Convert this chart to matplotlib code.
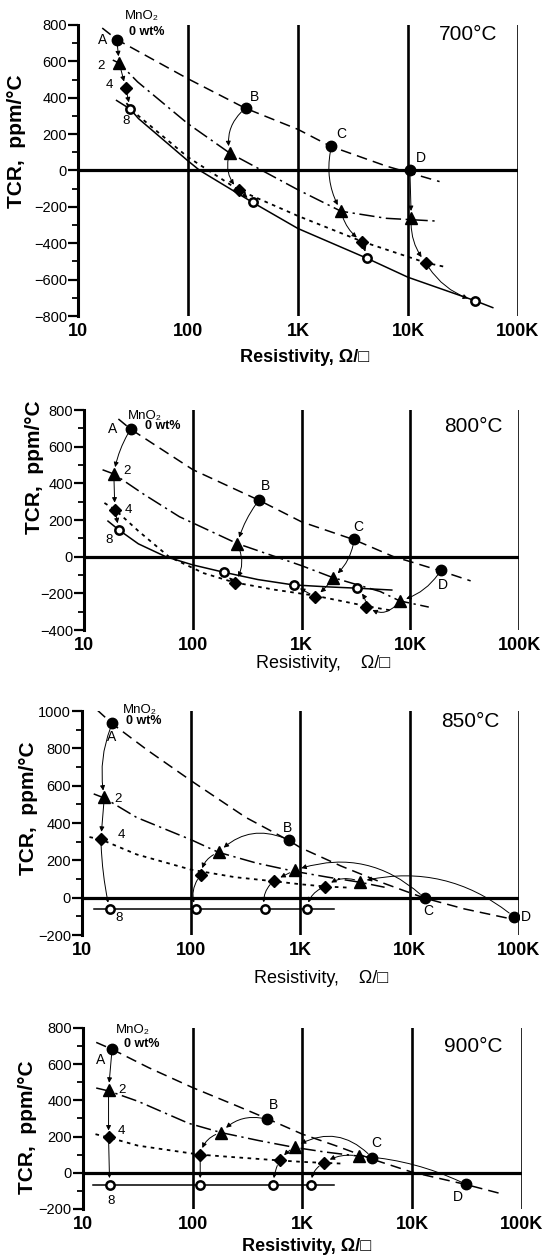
import matplotlib
matplotlib.use("Agg")
import matplotlib.pyplot as plt
from matplotlib.ticker import MultipleLocator, NullLocator

plt.rcParams["font.family"] = ["Liberation Sans", "DejaVu Sans"]

XTICKS = [10, 100, 1000, 10000, 100000]
XTICK_LABELS = ["10", "100", "1K", "10K", "100K"]
LETTERS = ["A", "B", "C", "D"]
WT = ["0", "2", "4", "8"]  # MnO2 wt%

# ---- measured points: rows = 0, 2, 4, 8 wt% MnO2 ; columns = resistor A..D
r700 = [[22.5, 334, 2015, 10400], [23.7, 239, 2460, 10700],
        [27.2, 288, 3850, 14500], [29.9, 388, 4250, 40300]]
t700 = [[720, 343, 132, 4], [590, 96, -224, -261],
        [452, -107, -391, -507], [337, -176, -483, -715]]

r800 = [[26.8, 408, 3045, 19200], [18.8, 256, 1930, 7960],
        [19.2, 242, 1330, 3950], [21.0, 195, 850, 3270]]
t800 = [[695, 310, 96, -72], [451, 68, -116, -241],
        [257, -143, -218, -272], [145, -86, -155, -173]]

r850 = [[19.0, 785, 13650, 89300], [16.0, 178, 885, 3500],
        [14.9, 122, 574, 1690], [17.9, 111, 470, 1140]]
t850 = [[935, 308, -2, -101], [537, 243, 147, 86],
        [316, 122, 92, 60], [-63, -62, -62, -62]]

r900 = [[18.4, 477, 4300, 30900], [17.1, 181, 850, 3250],
        [17.1, 117, 618, 1560], [17.5, 117, 540, 1200]]
t900 = [[682, 295, 84, -64], [459, 222, 142, 92],
        [195, 100, 68, 54], [-68, -68, -68, -68]]

# ---- fitted curves (0, 2, 4, 8 wt%)
c700_r = [[16.6, 22.5, 98.6, 330, 998, 1977, 6353, 19360],
          [20.7, 23.7, 34.8, 98.9, 239, 998, 2460, 6350, 17990],
          [27.5, 35.5, 98.9, 288, 1000, 3846, 14520, 22900],
          [22.4, 29.9, 35.5, 98.9, 128, 388, 998, 4246, 10000, 40270, 59020]]
c700_t = [[783, 720, 506, 343, 226, 133, 24, -61],
          [607, 590, 487, 259, 96, -106, -224, -263, -278],
          [370, 300, 75, -107, -250, -391, -507, -533],
          [385, 337, 285, 55, 0, -176, -319, -483, -587, -715, -754]]

c800_r = [[20.7, 26.9, 100.5, 412, 1000, 3055, 7015, 10000, 19100, 35890],
          [14.8, 18.8, 35.5, 75.3, 255, 1000, 1919, 5284, 7980, 14790],
          [15.4, 19.2, 31.6, 60.3, 126, 239, 562, 1309, 3981, 6457],
          [16.6, 21.0, 31.6, 56.4, 100, 193, 398, 838, 1778, 3266, 6761]]
c800_t = [[751, 695, 474, 306, 190, 92, 0, -27, -78, -132],
          [474, 451, 340, 218, 72, -49, -113, -190, -241, -275],
          [293, 257, 140, 0, -90, -140, -180, -212, -270, -292],
          [194, 145, 70, 0, -45, -85, -125, -154, -165, -172, -182]]

c850_r = [[13.8, 19.0, 39.8, 100, 316, 785, 1000, 2344, 5623, 13650, 31620, 79430],
          [12.8, 16.0, 31.6, 100, 178, 398, 885, 1778, 3491, 5888],
          [11.7, 14.9, 31.6, 100, 251, 575, 1000, 1690, 2754],
          [12.8, 2037]]
c850_t = [[1005, 931, 790, 626, 430, 306, 268, 170, 80, -2, -60, -110],
          [556, 534, 430, 310, 243, 185, 141, 110, 83, 56],
          [325, 312, 232, 150, 110, 88, 72, 60, 54],
          [-62, -62]]

c900_r = [[13.2, 18.4, 39.8, 100, 251, 476, 1000, 1995, 4315, 10000, 30900, 63970],
          [13.2, 17.1, 31.6, 91.8, 181, 398, 847, 1585, 3236, 3631],
          [13.0, 17.1, 31.6, 91.8, 117, 251, 617, 1000, 1542, 2427],
          [12.4, 1932]]
c900_t = [[720, 682, 580, 470, 370, 299, 213, 150, 75, 3, -65, -115],
          [468, 452, 395, 273, 222, 178, 140, 115, 92, 88],
          [213, 195, 150, 109, 100, 85, 68, 60, 55, 50],
          [-68, -68]]

LINE_STYLES = [dict(ls=(0, (7, 4)), lw=1.1),
               dict(ls=(0, (10, 3, 1.5, 3)), lw=1.1),
               dict(ls=(0, (2, 2.5)), lw=1.3),
               dict(ls="-", lw=1.1)]
MARKERS = [dict(marker="o", ms=7.5, mfc="black", mec="black"),
           dict(marker="^", ms=8, mfc="black", mec="black"),
           dict(marker="D", ms=6, mfc="black", mec="black"),
           dict(marker="o", ms=6, mfc="white", mec="black", mew=1.8)]

PANELS = [
    dict(temp="700°C", pts=(r700, t700), cur=(c700_r, c700_t),
         rect=[0.1416, 0.7492, 0.7985, 0.2310], ylim=(-800, 800),
         temp_xy=(0.886, 0.966), ylab_xy=(-0.118, 0.60), xlab_xy=(0.516, -0.115),
         xlab="Resistivity, Ω/□", xlab_w="bold",
         rads=[[0, 0.3, 0.2, 0], [0, 0.3, 0.2, 0.2], [0, 0, 0, 0.2]],
         let_off=[(-14, 0), (9, 11), (10, 12), (11, 12)],
         wt_off=[(-18, -3), (-16, 3), (-4, -12)],
         mno_off=(25, 24), owt_off=(30, 8)),
    dict(temp="800°C", pts=(r800, t800), cur=(c800_r, c800_t),
         rect=[0.1525, 0.5, 0.7895, 0.1746], ylim=(-400, 800),
         temp_xy=(0.894, 0.923), ylab_xy=(-0.092, 0.74), xlab_xy=(0.55, -0.112),
         xlab="Resistivity,    Ω/□", xlab_w="medium",
         rads=[[0.1, 0.1, -0.2, -0.2], [0, -0.3, -0.1, -0.5], [0, 0, 0, 0.2]],
         let_off=[(-18, 0), (6, 14), (4, 12), (2, -15)],
         wt_off=[(13, 3), (14, 0), (-10, -10)],
         mno_off=(14, 13), owt_off=(32, 3)),
    dict(temp="850°C", pts=(r850, t850), cur=(c850_r, c850_t),
         rect=[0.1488, 0.2579, 0.7931, 0.1778], ylim=(-200, 1000),
         temp_xy=(0.888, 0.951), ylab_xy=(-0.100, 0.567), xlab_xy=(0.547, -0.155),
         xlab="Resistivity,    Ω/□", xlab_w="medium",
         rads=[[0.15, 0.35, 0.3, 0.25], [0, 0.3, 0, 0.3], [0.05, 0.3, 0.3, 0.3]],
         let_off=[(-1, -14), (-2, 12), (4, -13), (12, 0)],
         wt_off=[(14, -2), (20, 4), (9, -9)],
         mno_off=(27, 13), owt_off=(31, 2)),
    dict(temp="900°C", pts=(r900, t900), cur=(c900_r, c900_t),
         rect=[0.1506, 0.0405, 0.7967, 0.1437], ylim=(-200, 800),
         temp_xy=(0.888, 0.895), ylab_xy=(-0.105, 0.453), xlab_xy=(0.51, -0.16),
         xlab="Resistivity, Ω/□", xlab_w="bold",
         rads=[[0, 0.3, 0.4, 0.1], [0, 0.3, 0.1, 0.2], [0, 0, 0.1, 0.3]],
         let_off=[(-11, -11), (6, 14), (4, 15), (-8, -13)],
         wt_off=[(13, 0), (13, 6), (1, -16)],
         mno_off=(21, 19), owt_off=(30, 5)),
]


def draw_panel(ax, p):
    R, T = p["pts"]
    CR, CT = p["cur"]
    ax.set_xscale("log")
    ax.set_xlim(10, 1e5)
    ax.set_ylim(*p["ylim"])
    for side in ("top", "right", "bottom"):
        ax.spines[side].set_visible(False)
    ax.spines["left"].set_linewidth(2.2)

    for x in XTICKS[1:]:
        ax.axvline(x, color="black", lw=1.9, zorder=1)
    ax.axhline(0, color="black", lw=2.3, zorder=1)

    for k in range(4):
        ax.plot(CR[k], CT[k], color="black", zorder=2, **LINE_STYLES[k])
    for k in range(4):
        ax.plot(R[k], T[k], ls="none", zorder=4, **MARKERS[k])

    # arrows from each composition to the next one
    for k in range(3):
        for i in range(4):
            ax.annotate("", xy=(R[k + 1][i], T[k + 1][i]), xytext=(R[k][i], T[k][i]),
                        arrowprops=dict(arrowstyle="-|>", lw=0.7, color="black",
                                        shrinkA=4, shrinkB=5, mutation_scale=7,
                                        connectionstyle=f"arc3,rad={p['rads'][k][i]}"),
                        zorder=3)

    for i, lab in enumerate(LETTERS):
        ax.annotate(lab, (R[0][i], T[0][i]), xytext=p["let_off"][i], textcoords="offset pixels",
                    ha="center", va="center", fontsize=10)
    for k in range(1, 4):
        ax.annotate(WT[k], (R[k][0], T[k][0]), xytext=p["wt_off"][k - 1], textcoords="offset pixels",
                    ha="center", va="center", fontsize=9.5)
    ax.annotate("MnO₂", (R[0][0], T[0][0]), xytext=p["mno_off"], textcoords="offset pixels",
                ha="center", va="center", fontsize=9.5)
    ax.annotate("0 wt%", (R[0][0], T[0][0]), xytext=p["owt_off"], textcoords="offset pixels",
                ha="center", va="center", fontsize=9, fontweight="bold")

    ax.text(*p["temp_xy"], p["temp"], transform=ax.transAxes, ha="center", va="center", fontsize=15)

    ax.set_xticks(XTICKS, XTICK_LABELS)
    ax.xaxis.set_minor_locator(NullLocator())
    ax.tick_params(axis="x", length=0, pad=5, labelsize=13)
    for lbl in ax.get_xticklabels():
        lbl.set_fontweight("bold")
    ax.yaxis.set_major_locator(MultipleLocator(200))
    ax.yaxis.set_minor_locator(MultipleLocator(100))
    ax.tick_params(axis="y", which="major", direction="out", length=7, width=1.6, labelsize=10.5, pad=1)
    ax.tick_params(axis="y", which="minor", direction="out", length=4, width=1.3)

    ax.set_ylabel("TCR,  ppm/°C", fontsize=15, fontweight="bold")
    ax.yaxis.set_label_coords(*p["ylab_xy"])
    ax.set_xlabel(p["xlab"], fontsize=13, fontweight=p["xlab_w"])
    ax.xaxis.set_label_coords(*p["xlab_xy"])


fig = plt.figure(figsize=(5.51, 12.6), dpi=100)
for p in PANELS:
    ax = fig.add_axes(p["rect"])
    draw_panel(ax, p)

fig.savefig("out.png", dpi=100)
plt.close(fig)
